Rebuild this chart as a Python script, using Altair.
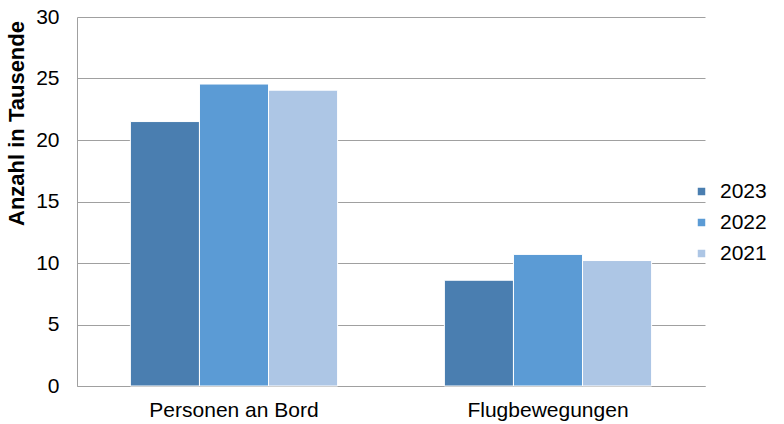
import altair as alt
import pandas as pd

categories = ["Personen an Bord", "Flugbewegungen"]
years = ["2023", "2022", "2021"]
values = {
    "2023": [21.5, 8.6],
    "2022": [24.55, 10.7],
    "2021": [24.05, 10.2],
}
colors = ["#4A7EB0", "#5B9BD5", "#ADC6E5"]

rows = []
for y in years:
    for c, v in zip(categories, values[y]):
        rows.append({"Kategorie": c, "Jahr": y, "Wert": v})
df = pd.DataFrame(rows)

font = "Liberation Sans"

chart = alt.Chart(df).mark_bar(stroke="white", strokeWidth=1).encode(
    x=alt.X("Kategorie:N", sort=categories,
            scale=alt.Scale(paddingInner=0.34, paddingOuter=0.17),
            axis=alt.Axis(title=None, labelAngle=0, labelFontSize=21, labelPadding=13,
                          ticks=False, domainColor="#A0A0A0", labelColor="black", labelFont=font)),
    xOffset=alt.XOffset("Jahr:N", sort=years, scale=alt.Scale(paddingInner=0.0)),
    y=alt.Y("Wert:Q", scale=alt.Scale(domain=[0, 30]),
            axis=alt.Axis(title="Anzahl in Tausende", values=[0, 5, 10, 15, 20, 25, 30],
                          ticks=False, labelFontSize=21, labelPadding=18, labelColor="black",
                          labelFont=font, domainColor="#A0A0A0", gridColor="#A0A0A0",
                          titleFont=font, titleFontSize=22, titleFontWeight="bold",
                          titleColor="black", titleAngle=270, titleX=-54, titleY=106,
                          titleAlign="center", titleBaseline="alphabetic")),
    color=alt.Color("Jahr:N", sort=years, scale=alt.Scale(domain=years, range=colors),
                    legend=alt.Legend(title=None, orient="none", legendX=614, legendY=164,
                                      symbolType="square", symbolSize=56, symbolStrokeWidth=0,
                                      labelFontSize=21, labelFont=font, labelColor="black",
                                      rowPadding=9, labelOffset=8)),
).properties(
    width=628, height=369,
    autosize=alt.AutoSizeParams(type="none"),
    padding={"left": 77, "top": 17, "right": 79, "bottom": 38},
).configure_view(stroke=None).configure_axisX(grid=False)

chart.save("out.html", embed_options={"renderer": "svg", "actions": False})
